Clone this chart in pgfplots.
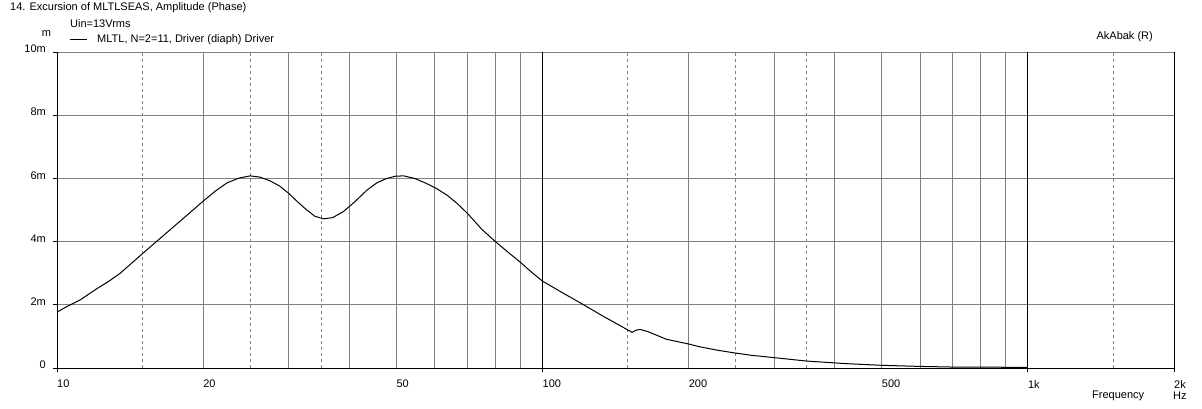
\documentclass[border=0pt]{standalone}
\usepackage{fontspec}
\setmainfont{Liberation Sans}
\usepackage{pgfplots}
\pgfplotsset{compat=1.18}
\definecolor{gridgray}{HTML}{808080}
\begin{document}
\fontsize{11}{13}\selectfont
\begin{tikzpicture}
\useasboundingbox (-57pt,-40pt) rectangle (1145pt,368pt);
\begin{axis}[
  at={(0,0)}, anchor=south west,
  scale only axis, width=1117pt, height=316pt,
  xmode=log, xmin=10, xmax=2000, ymin=0, ymax=10,
  axis line style={draw=none},
  xtick={10,100,1000,2000}, xticklabels={10,100,1k,2k},
  extra x ticks={20,50,200,500}, extra x tick labels={20,50,200,500},
  extra x tick style={major tick length=0pt, xticklabel style={yshift=-4pt}},
  ytick={0,2,4,6,8,10}, yticklabels={0,2m,4m,6m,8m,10m},
  xtick pos=left, ytick pos=left,
  tick align=outside, major tick length=4pt,
  xminorticks=false, yminorticks=false,
  tick style={black, line width=1pt},
  /pgf/number format/assume math mode=true,
  xticklabel style={anchor=north west, inner sep=0pt, font=\fontsize{11}{13}\selectfont, yshift=-8pt},
  yticklabel style={anchor=east, inner sep=0pt, font=\fontsize{11}{13}\selectfont, xshift=-7pt, yshift=3pt},
  clip=false,
]
% grid
\pgfplotsinvokeforeach{20,30,40,50,60,70,80,90,200,300,400,500,600,700,800,900}{
  \draw[gridgray, line width=1pt] (axis cs:#1,0) -- (axis cs:#1,10);
}
\pgfplotsinvokeforeach{15,25,35,150,250,350,1500}{
  \draw[gridgray, line width=1pt, dash pattern=on 3pt off 3pt] (axis cs:#1,0) -- (axis cs:#1,10);
}
\pgfplotsinvokeforeach{2,4,6,8,10}{
  \draw[gridgray, line width=1pt] (axis cs:10,#1) -- (axis cs:2000,#1);
}
\pgfplotsinvokeforeach{100,1000}{
  \draw[black, line width=1pt] (axis cs:#1,0) -- (axis cs:#1,10);
}
\draw[black, line width=1pt] (axis cs:10,10) -- (axis cs:10,0) -- (axis cs:2000,0) -- (axis cs:2000,10);
% data
\addplot[black, line width=1pt] coordinates {
(10,1.77) (10.5,1.95) (11.15,2.15) (12,2.48) (12.8,2.75) (13.5,3.0) (15,3.62) (17,4.34)
(19,4.98) (20,5.28) (21.2,5.6) (22.4,5.86) (23.7,6.01) (25,6.08) (26.2,6.04)
(27.5,5.92) (28.8,5.75) (30,5.53) (31.3,5.26) (32.7,5.0) (34,4.8) (35.4,4.72)
(37,4.76) (38.9,4.95) (41,5.25) (43.5,5.63) (45.6,5.86) (47.8,6.0) (49.8,6.07)
(51.8,6.08) (54.5,6.0) (57.7,5.84) (60.5,5.68) (63.6,5.47) (66.8,5.2) (70,4.9)
(75,4.39) (80,4.0) (85,3.66) (90,3.35) (95,3.03) (100,2.75) (110,2.38) (120,2.05)
(134,1.62) (145,1.33) (150,1.2) (153,1.13) (156,1.2) (159,1.22) (165,1.15)
(180,0.91) (200,0.76) (211,0.67) (230,0.56) (248,0.48) (270,0.4) (295,0.34)
(350,0.22) (420,0.14) (500,0.085) (600,0.05) (700,0.03) (850,0.025) (1000,0.02)
};
\end{axis}
\node[anchor=west, inner sep=0pt] at (-47pt,360pt) {14. Excursion of MLTLSEAS, Amplitude (Phase)};
\node[anchor=west, inner sep=0pt] at (13pt,344pt) {Uin=13Vrms};
\draw[black, line width=1pt] (13pt,328pt) -- (30pt,328pt);
\node[anchor=west, inner sep=0pt] at (40pt,328pt) {MLTL, N=2=11, Driver (diaph) Driver};
\node[anchor=center, inner sep=0pt] at (-10.5pt,334pt) {m};
\node[anchor=east, inner sep=0pt] at (1096pt,331pt) {AkAbak (R)};
\node[anchor=west, inner sep=0pt] at (1035pt,-28pt) {Frequency};
\node[anchor=west, inner sep=0pt] at (1116pt,-28pt) {Hz};
\end{tikzpicture}
\end{document}
